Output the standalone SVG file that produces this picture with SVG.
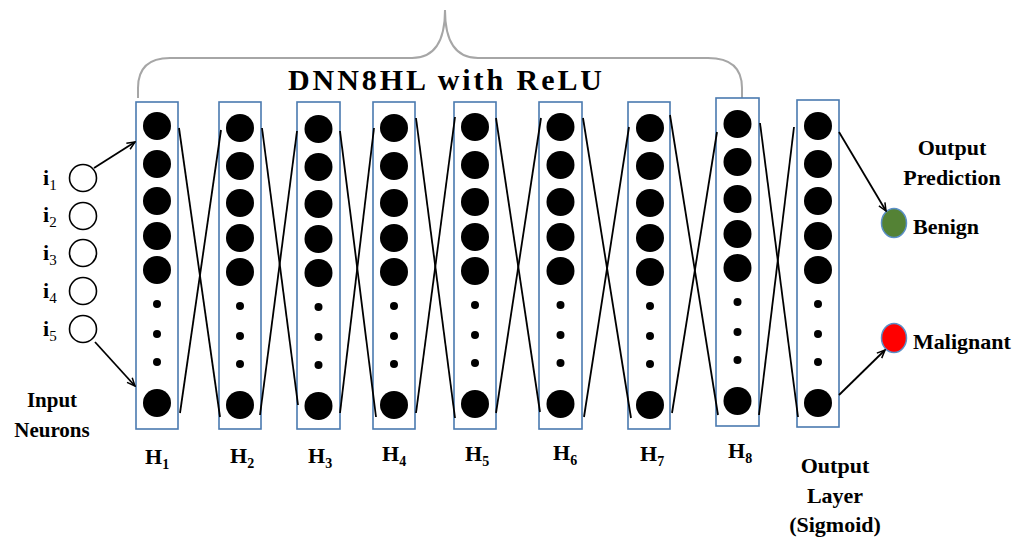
<svg xmlns="http://www.w3.org/2000/svg" width="1019" height="539" viewBox="0 0 1019 539">
  <style>
    .lbl { font-family: "Liberation Serif", "Times New Roman", serif; font-weight: bold; fill: #000; }
    .box { fill: #fff; stroke: #4a7ab0; stroke-width: 1.6; }
    .big { fill: #000; }
    .inp { fill: #fff; stroke: #000; stroke-width: 1.6; }
    .wire { stroke: #000; stroke-width: 1.8; fill: none; }
    .arr { stroke: #000; stroke-width: 1.8; fill: none; marker-end: url(#head); }
  </style>
  <defs>
    <marker id="head" viewBox="0 0 10 10" refX="9" refY="5" markerWidth="10" markerHeight="10" orient="auto" markerUnits="userSpaceOnUse">
      <path d="M1,1.5 L9,5 L1,8.5" fill="none" stroke="#000" stroke-width="1.5"/>
    </marker>
    <g id="col">
      <circle class="big" cx="0" cy="0" r="14"/>
      <circle class="big" cx="0" cy="38" r="14"/>
      <circle class="big" cx="0" cy="75" r="14"/>
      <circle class="big" cx="0" cy="110" r="14"/>
      <circle class="big" cx="0" cy="144" r="14"/>
      <circle class="big" cx="0" cy="178" r="4"/>
      <circle class="big" cx="0" cy="208" r="4"/>
      <circle class="big" cx="0" cy="236" r="4"/>
      <circle class="big" cx="0" cy="277" r="14"/>
    </g>
  </defs>

  <!-- brace over the hidden layers -->
  <path d="M138,98 L138,88 Q138,58 170,58 L412,58 Q445,58 445,10 Q445,58 478,58 L708,58 Q742,58 742,88 L742,98" fill="none" stroke="#a6a6a6" stroke-width="2"/>
  <text class="lbl" x="288" y="90" font-size="30" textLength="314" lengthAdjust="spacing">DNN8HL with ReLU</text>

  <!-- input neurons -->
  <g id="inputs">
    <circle class="inp" cx="83" cy="178" r="13.5"/>
    <circle class="inp" cx="83" cy="216" r="13.5"/>
    <circle class="inp" cx="83" cy="253" r="13.5"/>
    <circle class="inp" cx="83" cy="291" r="13.5"/>
    <circle class="inp" cx="83" cy="329" r="13.5"/>
    <text class="lbl" x="43" y="185" font-size="22">i<tspan font-size="15" font-weight="normal" dy="5">1</tspan></text>
    <text class="lbl" x="43" y="222" font-size="22">i<tspan font-size="15" font-weight="normal" dy="5">2</tspan></text>
    <text class="lbl" x="43" y="260" font-size="22">i<tspan font-size="15" font-weight="normal" dy="5">3</tspan></text>
    <text class="lbl" x="43" y="298" font-size="22">i<tspan font-size="15" font-weight="normal" dy="5">4</tspan></text>
    <text class="lbl" x="43" y="336" font-size="22">i<tspan font-size="15" font-weight="normal" dy="5">5</tspan></text>
    <text class="lbl" x="52" y="407" font-size="21" text-anchor="middle">Input</text>
    <text class="lbl" x="52" y="437" font-size="21" text-anchor="middle">Neurons</text>
  </g>

  <!-- hidden layers -->
  <g id="H1">
    <rect class="box" x="136" y="102" width="42" height="327"/>
    <use href="#col" x="157" y="126"/>
    <text class="lbl" x="145" y="464" font-size="22">H<tspan font-size="14" dy="5">1</tspan></text>
  </g>
  <g id="H2">
    <rect class="box" x="219" y="102" width="42" height="327"/>
    <use href="#col" x="240" y="128"/>
    <text class="lbl" x="230" y="463" font-size="22">H<tspan font-size="14" dy="5">2</tspan></text>
  </g>
  <g id="H3">
    <rect class="box" x="297" y="102" width="43" height="327"/>
    <use href="#col" x="318.5" y="129"/>
    <text class="lbl" x="308" y="463" font-size="22">H<tspan font-size="14" dy="5">3</tspan></text>
  </g>
  <g id="H4">
    <rect class="box" x="373" y="102" width="42" height="327"/>
    <use href="#col" x="394" y="128"/>
    <text class="lbl" x="382" y="461" font-size="22">H<tspan font-size="14" dy="5">4</tspan></text>
  </g>
  <g id="H5">
    <rect class="box" x="454" y="102" width="42" height="327"/>
    <use href="#col" x="475" y="127"/>
    <text class="lbl" x="465" y="461" font-size="22">H<tspan font-size="14" dy="5">5</tspan></text>
  </g>
  <g id="H6">
    <rect class="box" x="539" y="102" width="43" height="327"/>
    <use href="#col" x="560.5" y="127"/>
    <text class="lbl" x="553" y="460" font-size="22">H<tspan font-size="14" dy="5">6</tspan></text>
  </g>
  <g id="H7">
    <rect class="box" x="628" y="102" width="42" height="327"/>
    <use href="#col" x="650" y="128"/>
    <text class="lbl" x="640" y="461" font-size="22">H<tspan font-size="14" dy="5">7</tspan></text>
  </g>
  <g id="H8">
    <rect class="box" x="716" y="98" width="43" height="328"/>
    <use href="#col" x="737.5" y="124"/>
    <text class="lbl" x="728" y="458" font-size="22">H<tspan font-size="14" dy="5">8</tspan></text>
  </g>

  <!-- output layer -->
  <g id="output-layer">
    <rect class="box" x="797" y="100" width="42" height="327"/>
    <use href="#col" x="818" y="126"/>
    <text class="lbl" x="835" y="473" font-size="22" text-anchor="middle">Output</text>
    <text class="lbl" x="835" y="503" font-size="22" text-anchor="middle">Layer</text>
    <text class="lbl" x="835" y="532" font-size="22" text-anchor="middle">(Sigmoid)</text>
  </g>

  <!-- output prediction -->
  <g id="prediction">
    <text class="lbl" x="952" y="155" font-size="22" text-anchor="middle">Output</text>
    <text class="lbl" x="952" y="185" font-size="22" text-anchor="middle">Prediction</text>
  </g>
  <g id="benign">
    <ellipse cx="894" cy="223" rx="12.5" ry="14.5" fill="#548235" stroke="#5b8fc7" stroke-width="1.5"/>
    <text class="lbl" x="913" y="234" font-size="22">Benign</text>
  </g>
  <g id="malignant">
    <ellipse cx="894" cy="338" rx="12.5" ry="14.5" fill="#ff0000" stroke="#5b8fc7" stroke-width="1.5"/>
    <text class="lbl" x="913" y="349" font-size="22">Malignant</text>
  </g>

  <!-- connectors -->
  <g id="connectors">
    <line class="arr" x1="94" y1="168" x2="135" y2="142"/>
    <line class="arr" x1="95" y1="342" x2="135" y2="386"/>

    <line class="wire" x1="179" y1="128" x2="220" y2="417"/>
    <line class="wire" x1="180" y1="413" x2="221" y2="130"/>

    <line class="wire" x1="262" y1="128" x2="298" y2="405"/>
    <line class="wire" x1="260" y1="415" x2="297" y2="131"/>

    <line class="wire" x1="340" y1="131" x2="376" y2="417"/>
    <line class="wire" x1="340" y1="413" x2="374" y2="128"/>

    <line class="wire" x1="416" y1="118" x2="455" y2="418"/>
    <line class="wire" x1="416" y1="413" x2="455" y2="117"/>

    <line class="wire" x1="496" y1="118" x2="540" y2="412"/>
    <line class="wire" x1="496" y1="413" x2="541" y2="118"/>

    <line class="wire" x1="583" y1="118" x2="631" y2="418"/>
    <line class="wire" x1="584" y1="417" x2="629" y2="127"/>

    <line class="wire" x1="670" y1="115" x2="718" y2="415"/>
    <line class="wire" x1="672" y1="413" x2="717" y2="132"/>

    <line class="wire" x1="760" y1="123" x2="798" y2="417"/>
    <line class="wire" x1="759" y1="415" x2="794" y2="127"/>

    <line class="arr" x1="839" y1="132" x2="886" y2="211"/>
    <line class="arr" x1="839" y1="395" x2="885" y2="350"/>
  </g>
</svg>
